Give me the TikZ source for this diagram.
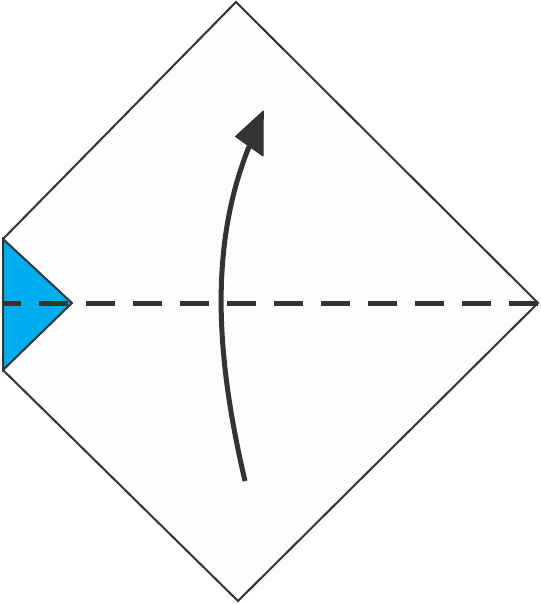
\documentclass[tikz,border=0pt]{standalone}
\usetikzlibrary{calc}
\definecolor{ink}{HTML}{333333}
\definecolor{paper}{HTML}{FDFDFD}
\definecolor{flapblue}{HTML}{00AEEF}
\tikzset{
  outline/.style={draw=ink, line width=2pt, line join=miter},
  foldline/.style={draw=ink, line width=5pt, dash pattern=on 29pt off 18pt},
  arrowshaft/.style={draw=ink, line width=5pt},
  arrowhead/.style={fill=ink, draw=ink, line width=1pt, line join=round},
}
\begin{document}
\begin{tikzpicture}[x=1pt,y=-1pt]
\useasboundingbox (0,0) rectangle (540,604);
% corners of the paper
\coordinate (T) at (236,2);
\coordinate (R) at (538,303);
\coordinate (B) at (238,601);
\coordinate (LB) at (3,370);
\coordinate (LT) at (3,239);
\coordinate (F) at (72,303);
\coordinate (LM) at (3,303);
% paper
\path[outline, fill=paper] (T) -- (R) -- (B) -- (LB) -- (LT) -- cycle;
% folded flap
\path[outline, fill=flapblue] (LT) -- (F) -- (LB) -- cycle;
% fold line
\path[foldline] (R) -- (LM);
% arrow
\coordinate (A0) at (245,481);
\coordinate (A1) at (249.2,146.3);
\coordinate (Tip) at (263.3,111);
\coordinate (HL) at (235.5,136.5);
\coordinate (HR) at (263,156);
\path[arrowshaft] (A0) .. controls (217,361) and (208,248) .. (A1);
\path[arrowhead] (Tip) -- (HL) -- (HR) -- cycle;
\end{tikzpicture}
\end{document}
